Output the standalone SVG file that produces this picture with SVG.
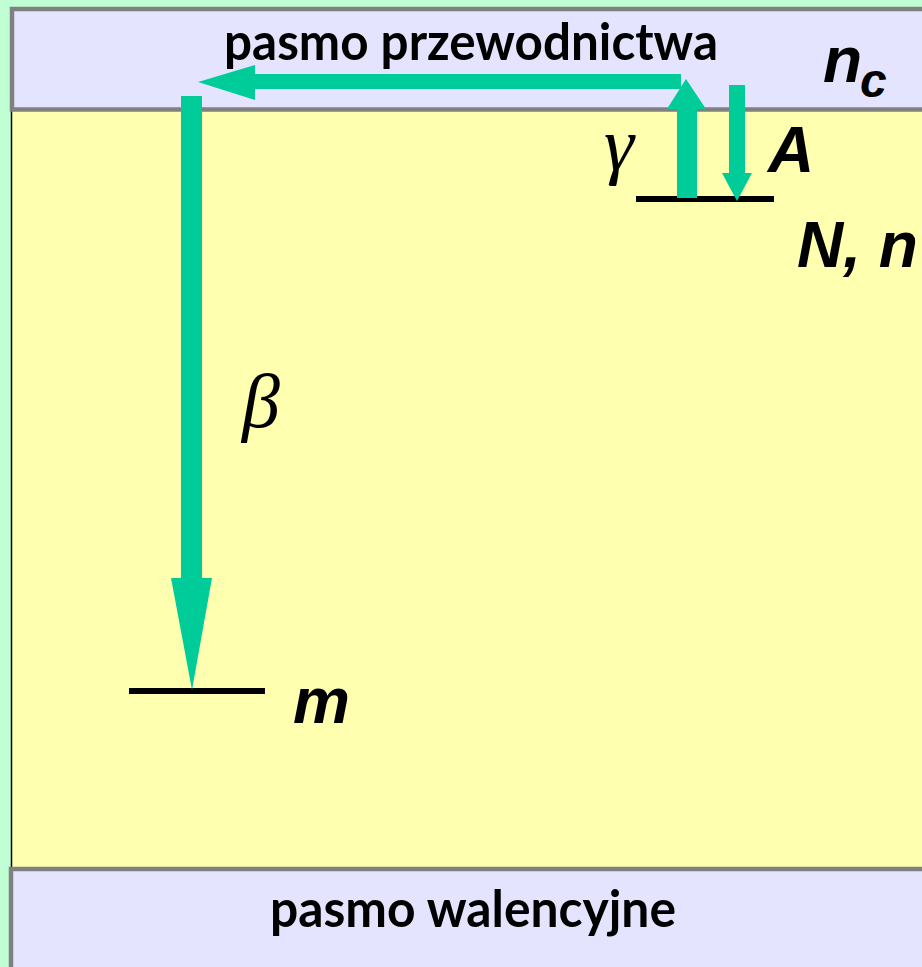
<svg xmlns="http://www.w3.org/2000/svg" width="922" height="967" viewBox="0 0 922 967">
<style>
.band{fill:#E4E4FF;stroke:#808080;stroke-width:4.5}
.gap{fill:#FFFFB0;stroke:#000;stroke-width:1.5}
.lvl{stroke:#000;stroke-width:6;fill:none}
.arr{fill:#00CC99;stroke:none}
.bandtxt{font-family:Lato,"Open Sans",sans-serif;font-weight:bold;font-size:51px;fill:#000}
.lbl{font-family:"Liberation Sans",Arial,sans-serif;font-weight:bold;font-style:italic;font-size:64px;fill:#000}
.grk{font-family:"Liberation Serif","Times New Roman",serif;font-style:italic;font-size:76px;fill:#000}
</style>
<rect x="0" y="0" width="922" height="967" fill="#C0FFD4"/>
<g id="gap">
<rect class="gap" x="11.5" y="110" width="930" height="759"/>
</g>
<g id="conduction-band">
<rect class="band" x="12" y="9" width="930" height="100.5"/>
<text class="bandtxt" x="471" y="60" text-anchor="middle" textLength="494" lengthAdjust="spacingAndGlyphs">pasmo przewodnictwa</text>
<text class="lbl" x="823" y="82">n</text>
<text class="lbl" x="860" y="97" style="font-size:48px">c</text>
</g>
<g id="valence-band">
<rect class="band" x="11" y="869" width="930" height="120"/>
<text class="bandtxt" x="473" y="927" text-anchor="middle" textLength="406" lengthAdjust="spacingAndGlyphs">pasmo walencyjne</text>
</g>
<g id="level-N">
<line class="lvl" x1="636" y1="199" x2="774" y2="199"/>
<text class="lbl" x="797" y="267">N, n</text>
</g>
<g id="level-m">
<line class="lvl" x1="129" y1="691" x2="265" y2="691"/>
<text class="lbl" x="293" y="723">m</text>
</g>
<g id="connectors">
<polygon class="arr" points="181,96 202,96 202,578 212,578 192,690 171,578 181,578"/>
<polygon class="arr" points="681,74 681,89 255,89 255,100 198,82 255,65 255,74"/>
<polygon class="arr" points="677,198 697,198 697,109 706,109 686,79 667,109 677,109"/>
<polygon class="arr" points="729,85 745,85 745,173 752,173 737,201 722,173 729,173"/>
<text class="grk" x="604" y="170">γ</text>
<text class="grk" x="242" y="427">β</text>
<text class="lbl" x="768" y="172">A</text>
</g>
</svg>
